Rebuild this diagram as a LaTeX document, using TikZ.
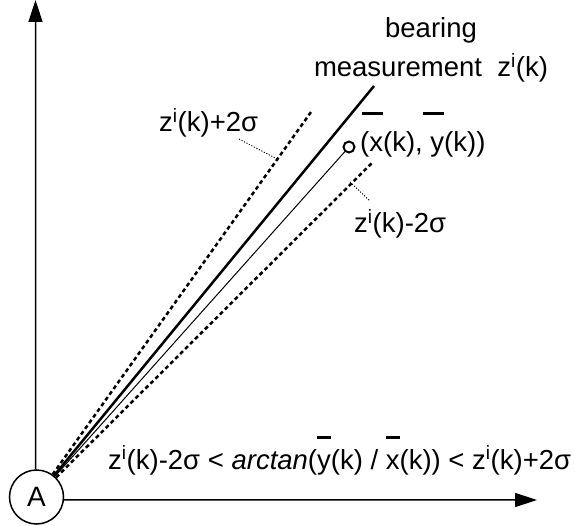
\documentclass[tikz,border=0pt]{standalone}
\usepackage{fontspec}
\setmainfont{Liberation Sans}
\usetikzlibrary{arrows.meta}
\newcommand\obar[2][1.1em]{{\setbox0\hbox{#2}\rlap{\raisebox{#1}{\rule{\wd0}{0.1em}}}\box0}}
\newcommand\wbar[1]{{\setbox0\hbox{#1}\rlap{\hspace{-0.28em}\raisebox{1.35em}{\rule{\dimexpr\wd0+0.28em\relax}{0.1em}}}\box0}}
\newcommand\zi{z\textsuperscript{i}}
\tikzset{
  lbl/.style={inner sep=0pt, anchor=base west, font=\fontsize{27.5}{39}\selectfont},
  axis/.style={line width=1.5pt, -{Triangle[length=22pt,width=14pt]}},
  bound/.style={line width=2.5pt, dash pattern=on 4pt off 3pt},
  leader/.style={line width=0.9pt, dash pattern=on 1.2pt off 1.6pt},
}
\begin{document}
\begin{tikzpicture}[x=1pt,y=-1pt]
\useasboundingbox (0,0) rectangle (575,526);
% origin
\node[circle, draw, line width=1.5pt, minimum size=54pt, inner sep=0pt,
      font=\fontsize{28}{30}\selectfont] (A) at (36.5,497) {A};
\coordinate (ytip) at (35.5,0);
\coordinate (xtip) at (537,500);
\draw[axis] (A.92) -- (ytip);
\draw[axis] (A.-6) -- (xtip);
% bearing lines
\coordinate (meas) at (374,86);
\coordinate (up) at (311,112);
\coordinate (lo) at (373,162);
\node[circle, draw, line width=2pt, fill=white, minimum size=11pt, inner sep=0pt] (est) at (349,147) {};
\draw[bound] (A) -- (up);
\draw[bound] (A) -- (lo);
\draw[line width=2.5pt] (A) -- (meas);
\draw[line width=1pt] (A) -- (est);
% labels
\node[inner sep=0pt, align=center, anchor=base, font=\fontsize{27.5}{39}\selectfont] (bm) at (431,77)
  {bearing\\measurement\ \ \zi(k)};
\node[lbl] (upl) at (159,132) {\zi(k)+2σ};
\node[lbl] (lol) at (354,233) {\zi(k)-2σ};
\node[lbl] (estl) at (360,152) {(\wbar{x}(k), \wbar{y}(k))};
\node[lbl] (cond) at (108,469) {\zi(k)-2σ < \textit{arctan}(\obar{y}(k) / \obar{x}(k)) < \zi(k)+2σ};
% leaders
\coordinate (l1a) at (239,139);
\coordinate (l1b) at (277,159);
\coordinate (l2a) at (350,182);
\coordinate (l2b) at (370,201);
\draw[leader] (l1a) -- (l1b);
\draw[leader] (l2a) -- (l2b);
\end{tikzpicture}
\end{document}
